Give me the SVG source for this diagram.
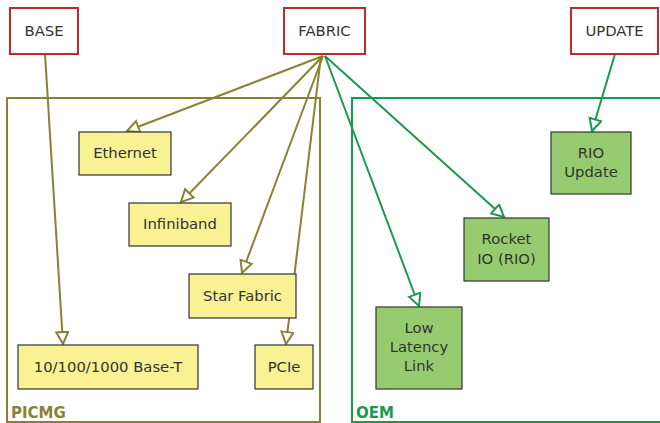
<svg xmlns="http://www.w3.org/2000/svg" width="660" height="423" viewBox="0 0 660 423">
<style>
text{font-family:"DejaVu Sans","Verdana",sans-serif;font-size:14.8px;fill:#333;text-anchor:middle}
.top rect{fill:#fff;stroke:#c3282f;stroke-width:2}
.y rect{fill:#f8f294;stroke:#333;stroke-width:1.2}
.g rect{fill:#96cc6f;stroke:#333;stroke-width:1.2}
.ol{stroke:#8a8132;stroke-width:2;fill:none}
.gr{stroke:#1a9a4c;stroke-width:2;fill:none}
.lbl{font-weight:bold;text-anchor:start;font-size:15px}
</style>
<defs>
<marker id="ao" markerUnits="userSpaceOnUse" markerWidth="16" markerHeight="16" refX="13" refY="7" orient="auto"><path d="M1,1 L13,7 L1,13 z" fill="#fff" stroke="#8a8132" stroke-width="2"/></marker>
<marker id="ag" markerUnits="userSpaceOnUse" markerWidth="16" markerHeight="16" refX="13" refY="7" orient="auto"><path d="M1,1 L13,7 L1,13 z" fill="#fff" stroke="#1a9a4c" stroke-width="2"/></marker>
</defs>
<g id="picmg"><rect x="7" y="98" width="313" height="324" fill="none" stroke="#8a8132" stroke-width="2"/><text class="lbl" x="11" y="418" style="fill:#8a8132">PICMG</text></g>
<g id="oem"><rect x="352" y="98" width="312" height="324" fill="none" stroke="#1a9a4c" stroke-width="2"/><text class="lbl" x="356" y="418" style="fill:#1a9a4c">OEM</text></g>
<g id="connectors">
<line class="ol" x1="45" y1="54" x2="63" y2="344" marker-end="url(#ao)"/>
<line class="ol" x1="323" y1="56" x2="127" y2="131" marker-end="url(#ao)"/>
<line class="ol" x1="323" y1="56" x2="181" y2="202" marker-end="url(#ao)"/>
<line class="ol" x1="323" y1="56" x2="242" y2="273" marker-end="url(#ao)"/>
<line class="ol" x1="321" y1="56" x2="286" y2="344" marker-end="url(#ao)"/>
<line class="gr" x1="325" y1="56" x2="504" y2="217" marker-end="url(#ag)"/>
<line class="gr" x1="325" y1="56" x2="419" y2="306" marker-end="url(#ag)"/>
<line class="gr" x1="615" y1="54" x2="592" y2="131" marker-end="url(#ag)"/>
</g>
<g id="base" class="top"><rect x="10" y="8" width="68" height="46"/><text x="44" y="36">BASE</text></g>
<g id="fabric" class="top"><rect x="284" y="8" width="81" height="46"/><text x="324.5" y="36">FABRIC</text></g>
<g id="update" class="top"><rect x="571" y="8" width="87" height="46"/><text x="614.5" y="36">UPDATE</text></g>
<g id="ethernet" class="y"><rect x="79" y="132" width="92" height="43"/><text x="125" y="158">Ethernet</text></g>
<g id="infiniband" class="y"><rect x="129" y="203" width="102" height="43"/><text x="180" y="229">Infiniband</text></g>
<g id="starfabric" class="y"><rect x="189" y="274" width="107" height="44"/><text x="242.5" y="301">Star Fabric</text></g>
<g id="baset" class="y"><rect x="18" y="345" width="180" height="44"/><text x="108" y="372">10/100/1000 Base-T</text></g>
<g id="pcie" class="y"><rect x="255" y="345" width="58" height="44"/><text x="284" y="372">PCIe</text></g>
<g id="rioupdate" class="g"><rect x="551" y="132" width="80" height="62"/><text x="591" y="158">RIO</text><text x="591" y="177">Update</text></g>
<g id="rocketio" class="g"><rect x="464" y="218" width="85" height="63"/><text x="506.5" y="244">Rocket</text><text x="506.5" y="264">IO (RIO)</text></g>
<g id="lowlatency" class="g"><rect x="376" y="307" width="86" height="82"/><text x="419" y="333">Low</text><text x="419" y="352">Latency</text><text x="419" y="371">Link</text></g>
</svg>
